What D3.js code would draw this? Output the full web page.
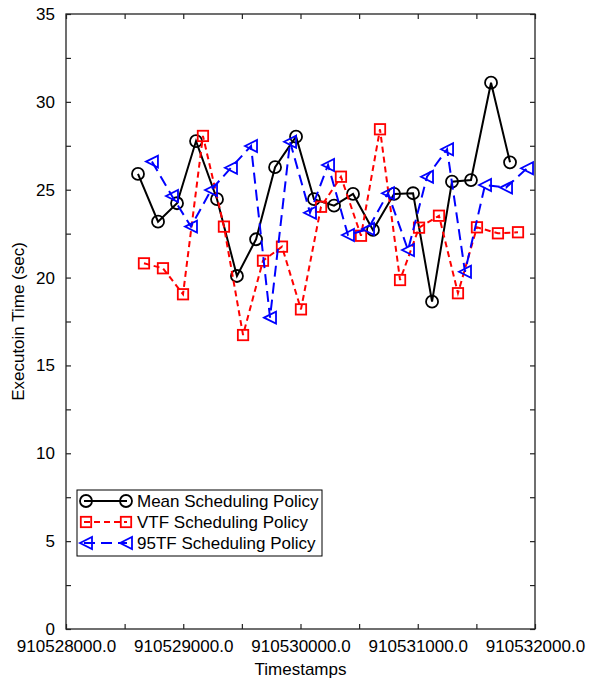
<!DOCTYPE html>
<html>
<head>
<meta charset="utf-8">
<script src="https://cdn.jsdelivr.net/npm/d3@7/dist/d3.min.js"></script>
<style>
  html, body { margin: 0; padding: 0; background: #fff; }
  svg { display: block; }
  text { font-family: "Liberation Sans", Arial, sans-serif; }
</style>
</head>
<body>
<svg id="chart" width="589" height="683"></svg>
<script>
// Execution times (sec) per timestamp for three scheduling policies
const tsMean = [910528614, 910528785, 910528947, 910529109, 910529288, 910529458, 910529621, 910529783, 910529962, 910530115,
                910530286, 910530448, 910530618, 910530798, 910530960, 910531122, 910531292, 910531454, 910531625, 910531787];
const meanTimes = [25.90, 23.18, 24.23, 27.77, 24.46, 20.09, 22.18, 26.28, 28.02, 24.46,
                   24.09, 24.76, 22.71, 24.76, 24.80, 18.63, 25.46, 25.55, 31.09, 26.56];

const tsVTF = [910528665, 910528827, 910528998, 910529168, 910529347, 910529510, 910529680, 910529842, 910530004, 910530175,
               910530345, 910530516, 910530678, 910530849, 910531011, 910531181, 910531343, 910531505, 910531684, 910531855];
const vtfTimes = [20.81, 20.53, 19.05, 28.06, 22.90, 16.73, 20.96, 21.76, 18.19, 24.03,
                  25.74, 22.38, 28.44, 19.86, 22.84, 23.52, 19.11, 22.86, 22.52, 22.58];

const ts95TF = [910528733, 910528904, 910529066, 910529237, 910529407, 910529578, 910529740, 910529911, 910530081, 910530235,
                910530405, 910530576, 910530746, 910530917, 910531079, 910531250, 910531403, 910531574, 910531753, 910531932];
const tf95Times = [26.60, 24.64, 22.90, 24.98, 26.25, 27.49, 17.72, 27.73, 23.69, 26.41,
                   22.42, 22.76, 24.80, 21.57, 25.74, 27.30, 20.33, 25.27, 25.12, 26.22];

const xMajorTicks = [910528000, 910529000, 910530000, 910531000, 910532000];
const xMinorTicks = [910528500, 910529500, 910530500, 910531500];
const yMajorTicks = [0, 5, 10, 15, 20, 25, 30, 35];
const yMinorTicks = [2.5, 7.5, 12.5, 17.5, 22.5, 27.5, 32.5];

const legendLabels = ["Mean Scheduling Policy", "VTF Scheduling Policy", "95TF Scheduling Policy"];

const svg = d3.select("#chart");
const margin = { left: 66, right: 54, top: 14, bottom: 54 };
const W = 589, H = 683;
const plotW = W - margin.left - margin.right;
const plotH = H - margin.top - margin.bottom;

const x = d3.scaleLinear().domain([910528000, 910532000]).range([margin.left, margin.left + plotW]);
const y = d3.scaleLinear().domain([0, 35]).range([margin.top + plotH, margin.top]);

const FONT = 17;
const axisColor = "#222";

// Frame
svg.append("rect")
  .attr("x", margin.left).attr("y", margin.top)
  .attr("width", plotW).attr("height", plotH)
  .attr("fill", "none").attr("stroke", axisColor).attr("stroke-width", 1.3);

// Inward ticks on all four sides
function drawTicks(axisGen, transform, ticks, size) {
  const g = svg.append("g").attr("transform", transform)
    .call(axisGen.tickValues(ticks).tickSize(size).tickFormat(""));
  g.select(".domain").remove();
  g.selectAll(".tick line").attr("stroke", axisColor).attr("stroke-width", 1.2);
  return g;
}
const bottomY = margin.top + plotH, rightX = margin.left + plotW;
drawTicks(d3.axisTop(x), `translate(0,${bottomY})`, xMajorTicks.concat(xMinorTicks), 5);
drawTicks(d3.axisBottom(x), `translate(0,${margin.top})`, xMajorTicks.concat(xMinorTicks), 5);
drawTicks(d3.axisRight(y), `translate(${margin.left},0)`, yMajorTicks.concat(yMinorTicks), 5);
drawTicks(d3.axisLeft(y), `translate(${rightX},0)`, yMajorTicks.concat(yMinorTicks), 5);

// Tick labels
const xLab = svg.append("g").attr("transform", `translate(0,${bottomY})`)
  .call(d3.axisBottom(x).tickValues(xMajorTicks).tickSize(0).tickPadding(0).tickFormat(d3.format(".1f")));
xLab.select(".domain").remove();
xLab.selectAll("text").attr("font-size", FONT).attr("fill", "#000")
  .attr("font-family", "Liberation Sans, Arial, sans-serif").attr("dy", "1.35em");

const yLab = svg.append("g").attr("transform", `translate(${margin.left},0)`)
  .call(d3.axisLeft(y).tickValues(yMajorTicks).tickSize(0).tickPadding(11).tickFormat(d3.format("d")));
yLab.select(".domain").remove();
yLab.selectAll("text").attr("font-size", FONT).attr("fill", "#000")
  .attr("font-family", "Liberation Sans, Arial, sans-serif");

// Axis titles
svg.append("text")
  .attr("x", margin.left + plotW / 2).attr("y", 675)
  .attr("text-anchor", "middle").attr("font-size", FONT)
  .text("Timestamps");
svg.append("text")
  .attr("transform", `translate(24,${margin.top + plotH / 2}) rotate(-90)`)
  .attr("text-anchor", "middle").attr("font-size", FONT)
  .text("Executoin Time (sec)");

// Series definitions
const series = [
  { ts: tsMean, vals: meanTimes, color: "#000", dash: null, marker: "circle" },
  { ts: tsVTF, vals: vtfTimes, color: "#ff0000", dash: "6,4", marker: "square" },
  { ts: ts95TF, vals: tf95Times, color: "#0000ff", dash: "11,6", marker: "triangle" }
];

function drawMarker(g, kind, cx, cy, color) {
  if (kind === "circle") {
    g.append("circle").attr("cx", cx).attr("cy", cy).attr("r", 6)
      .attr("fill", "none").attr("stroke", color).attr("stroke-width", 1.8);
  } else if (kind === "square") {
    g.append("rect").attr("x", cx - 5.2).attr("y", cy - 5.2).attr("width", 10.4).attr("height", 10.4)
      .attr("fill", "none").attr("stroke", color).attr("stroke-width", 1.8);
  } else {
    const s = 6;
    g.append("path")
      .attr("d", `M${cx - s},${cy} L${cx + s},${cy - s} L${cx + s},${cy + s} Z`)
      .attr("fill", "none").attr("stroke", color).attr("stroke-width", 1.8)
      .attr("stroke-linejoin", "miter");
  }
}

const line = d3.line().x(d => x(d[0])).y(d => y(d[1]));

series.forEach(s => {
  const pts = s.ts.map((t, i) => [t, s.vals[i]]);
  const g = svg.append("g");
  g.append("path").datum(pts).attr("d", line)
    .attr("fill", "none").attr("stroke", s.color).attr("stroke-width", 2)
    .attr("stroke-dasharray", s.dash);
  pts.forEach(p => drawMarker(g, s.marker, x(p[0]), y(p[1]), s.color));
});

// Legend
const lg = svg.append("g");
lg.append("rect").attr("x", 77).attr("y", 490).attr("width", 245).attr("height", 66)
  .attr("fill", "#fff").attr("stroke", "#000").attr("stroke-width", 1);
series.forEach((s, i) => {
  const ly = 501 + i * 21;
  lg.append("line").attr("x1", 84).attr("x2", 127).attr("y1", ly).attr("y2", ly)
    .attr("stroke", s.color).attr("stroke-width", 2).attr("stroke-dasharray", s.dash);
  drawMarker(lg, s.marker, 86, ly, s.color);
  drawMarker(lg, s.marker, 126, ly, s.color);
  lg.append("text").attr("x", 137).attr("y", ly).attr("dy", "0.36em")
    .attr("font-size", FONT).text(legendLabels[i]);
});
</script>
</body>
</html>
